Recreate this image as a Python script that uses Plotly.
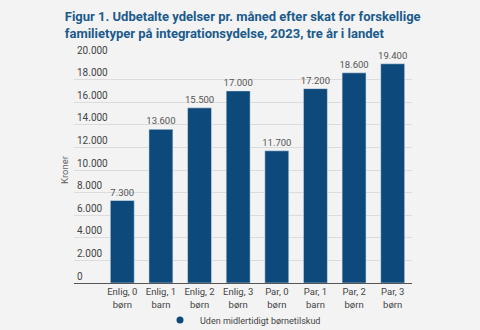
import plotly.graph_objects as go

categories = ["Enlig, 0<br>børn", "Enlig, 1<br>barn", "Enlig, 2<br>børn", "Enlig, 3<br>børn",
              "Par, 0<br>børn", "Par, 1<br>barn", "Par, 2<br>børn", "Par, 3<br>børn"]
values = [7300, 13600, 15500, 17000, 11700, 17200, 18600, 19400]
series_name = "Uden midlertidigt børnetilskud"
tick_vals = [0, 2000, 4000, 6000, 8000, 10000, 12000, 14000, 16000, 18000, 20000]
tick_text = ["0", "2.000", "4.000", "6.000", "8.000", "10.000", "12.000", "14.000", "16.000", "18.000", "20.000"]
value_labels = [f"{v:,}".replace(",", ".") for v in values]

BAR = "#0d4a7b"
fig = go.Figure()
fig.add_trace(go.Bar(
    x=list(range(len(categories))), y=values, name=series_name,
    marker_color=BAR, text=value_labels, textposition="outside",
    constraintext="none",
    textfont=dict(size=9.5, color="#555555", family="Roboto"),
    cliponaxis=False, showlegend=False,
))
fig.add_trace(go.Scatter(
    x=[None], y=[None], mode="markers", name=series_name,
    marker=dict(symbol="circle", size=7, color=BAR), showlegend=True,
))
fig.update_layout(
    width=480, height=330,
    margin=dict(l=74, r=68, t=57, b=47),
    paper_bgcolor="#f3f3f3", plot_bgcolor="#f3f3f3",
    font=dict(family="Roboto", color="#444444", size=10),
    title=dict(
        text="<b>Figur 1. Udbetalte ydelser pr. måned efter skat for forskellige<br>familietyper på integrationsydelse, 2023, tre år i landet</b>",
        x=0.135, xanchor="left", y=1 - 21 / 330, yanchor="middle", yref="container",
        font=dict(size=13, color="#1b5a8c", family="Roboto"),
    ),
    bargap=0.38,
    showlegend=True,
    legend=dict(orientation="h", x=0.5, xanchor="center", y=1 - 320 / 330, yanchor="middle",
                yref="container", font=dict(size=9, color="#444444"),
                bgcolor="rgba(0,0,0,0)"),
    xaxis=dict(
        range=[-1.25, 7.5], tickvals=list(range(len(categories))), ticktext=categories,
        showgrid=False, zeroline=False, showline=True, linecolor="#555555", linewidth=1,
        ticks="", tickfont=dict(size=9.5, color="#444444"), automargin=False,
    ),
    yaxis=dict(
        range=[0, 20000], tickvals=tick_vals, ticktext=tick_text,
        ticklabelposition="inside top", ticklabeloverflow="allow",
        showgrid=True, gridcolor="#dcdcdc", gridwidth=1, zeroline=False,
        tickfont=dict(size=10, color="#444444"), automargin=False,
        title=dict(text="Kroner", font=dict(size=9.5, color="#666666"), standoff=6),
    ),
)
fig.write_html("out.html")
